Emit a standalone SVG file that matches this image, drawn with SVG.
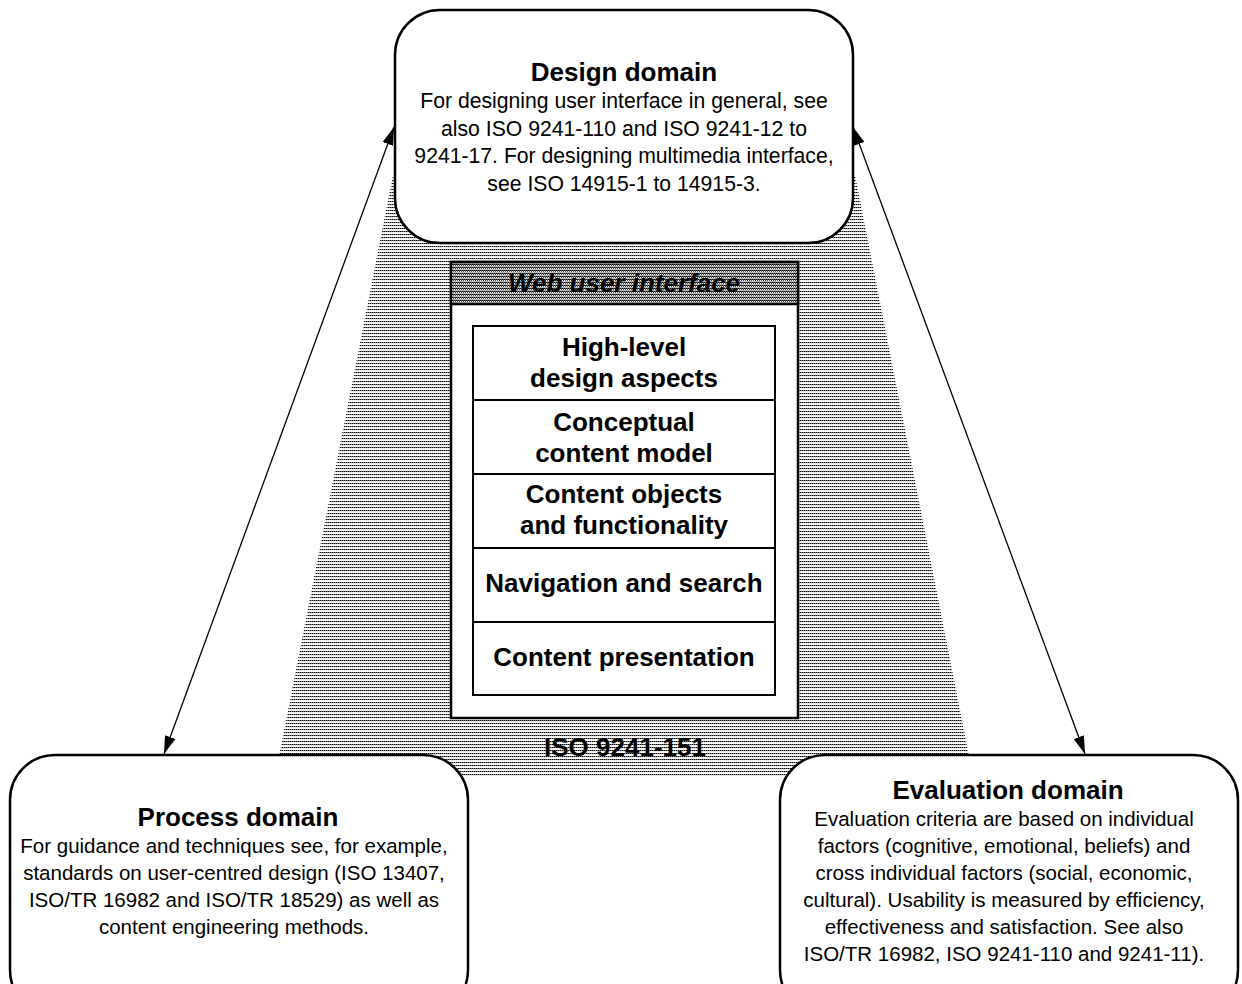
<svg xmlns="http://www.w3.org/2000/svg" width="1242" height="984" viewBox="0 0 1242 984">
<style>
.box{fill:#fff;stroke:#000;stroke-width:2.5}
.title{font-family:"Liberation Sans",Arial,sans-serif;font-weight:bold;font-size:26px;text-anchor:middle;fill:#000}
.body{font-family:"Liberation Sans",Arial,sans-serif;font-size:20.5px;text-anchor:middle;fill:#000}
.dbody{font-size:21.2px}
.conn{stroke:#000;stroke-width:1.3;fill:none;marker-start:url(#ah);marker-end:url(#ah)}
</style>
<defs>
<pattern id="shade" width="2" height="3" patternUnits="userSpaceOnUse">
<rect x="0" y="0" width="1" height="1" fill="#000"/>
<rect x="1" y="0" width="1" height="1" fill="#777"/>
<rect x="0" y="1" width="2" height="1" fill="#eee"/>
</pattern>
<pattern id="hdr" width="2" height="3" patternUnits="userSpaceOnUse">
<rect x="0" y="0" width="2" height="3" fill="#fff"/>
<rect x="0" y="0" width="1" height="1" fill="#000"/>
<rect x="1" y="0" width="1" height="1" fill="#555"/>
<rect x="1" y="1" width="1" height="1" fill="#444"/>
<rect x="0" y="2" width="2" height="1" fill="#bbb"/>
</pattern>
<marker id="ah" viewBox="0 0 18 11" refX="18" refY="5.5" markerWidth="18" markerHeight="11" markerUnits="userSpaceOnUse" orient="auto-start-reverse">
<path d="M0,0 L18,5.5 L0,11 Z" fill="#000"/>
</marker>
</defs>
<rect width="1242" height="984" fill="#fff"/>
<g id="shading">
<polygon points="393,175 855,175 973,777 275,777" fill="url(#shade)"/>
</g>
<g id="connectors">
<line class="conn" x1="394" y1="127" x2="164" y2="754"/>
<line class="conn" x1="853" y1="127" x2="1085" y2="754"/>
</g>
<g id="design">
<rect class="box" x="395" y="10" width="458" height="233" rx="45" ry="45"/>
<text class="title" x="624" y="81">Design domain</text>
<text class="body dbody" x="624" y="108">For designing user interface in general, see</text>
<text class="body dbody" x="624" y="136">also ISO 9241-110 and ISO 9241-12 to</text>
<text class="body dbody" x="624" y="163">9241-17. For designing multimedia interface,</text>
<text class="body dbody" x="624" y="191">see ISO 14915-1 to 14915-3.</text>
</g>
<g id="process">
<rect class="box" x="10" y="755" width="458" height="260" rx="45" ry="45"/>
<text class="title" x="238" y="826">Process domain</text>
<text class="body" x="234" y="853">For guidance and techniques see, for example,</text>
<text class="body" x="234" y="880">standards on user-centred design (ISO 13407,</text>
<text class="body" x="234" y="907">ISO/TR 16982 and ISO/TR 18529) as well as</text>
<text class="body" x="234" y="934">content engineering methods.</text>
</g>
<g id="evaluation">
<rect class="box" x="780" y="755" width="458" height="260" rx="45" ry="45"/>
<text class="title" x="1008" y="799">Evaluation domain</text>
<text class="body" x="1004" y="826">Evaluation criteria are based on individual</text>
<text class="body" x="1004" y="853">factors (cognitive, emotional, beliefs) and</text>
<text class="body" x="1004" y="880">cross individual factors (social, economic,</text>
<text class="body" x="1004" y="907">cultural). Usability is measured by efficiency,</text>
<text class="body" x="1004" y="934">effectiveness and satisfaction. See also</text>
<text class="body" x="1004" y="961">ISO/TR 16982, ISO 9241-110 and 9241-11).</text>
</g>
<g id="web-ui">
<rect class="box" x="451" y="262" width="347" height="456"/>
<rect x="451" y="262" width="347" height="42" fill="url(#hdr)" stroke="#000" stroke-width="2.5"/>
<text class="title" x="624" y="292" font-style="italic">Web user interface</text>
<rect x="473" y="326" width="302" height="369" fill="#fff" stroke="#000" stroke-width="2"/>
<line x1="473" y1="400" x2="775" y2="400" stroke="#000" stroke-width="2"/>
<line x1="473" y1="474" x2="775" y2="474" stroke="#000" stroke-width="2"/>
<line x1="473" y1="548" x2="775" y2="548" stroke="#000" stroke-width="2"/>
<line x1="473" y1="622" x2="775" y2="622" stroke="#000" stroke-width="2"/>
</g>
<g id="high-level">
<text class="title" x="624" y="356">High-level</text>
<text class="title" x="624" y="387">design aspects</text>
</g>
<g id="conceptual">
<text class="title" x="624" y="431">Conceptual</text>
<text class="title" x="624" y="462">content model</text>
</g>
<g id="content-objects">
<text class="title" x="624" y="503">Content objects</text>
<text class="title" x="624" y="534">and functionality</text>
</g>
<g id="navigation">
<text class="title" x="624" y="592">Navigation and search</text>
</g>
<g id="presentation">
<text class="title" x="624" y="666">Content presentation</text>
</g>
<g id="iso-label">
<text class="title" x="625" y="756">ISO 9241-151</text>
</g>
</svg>
